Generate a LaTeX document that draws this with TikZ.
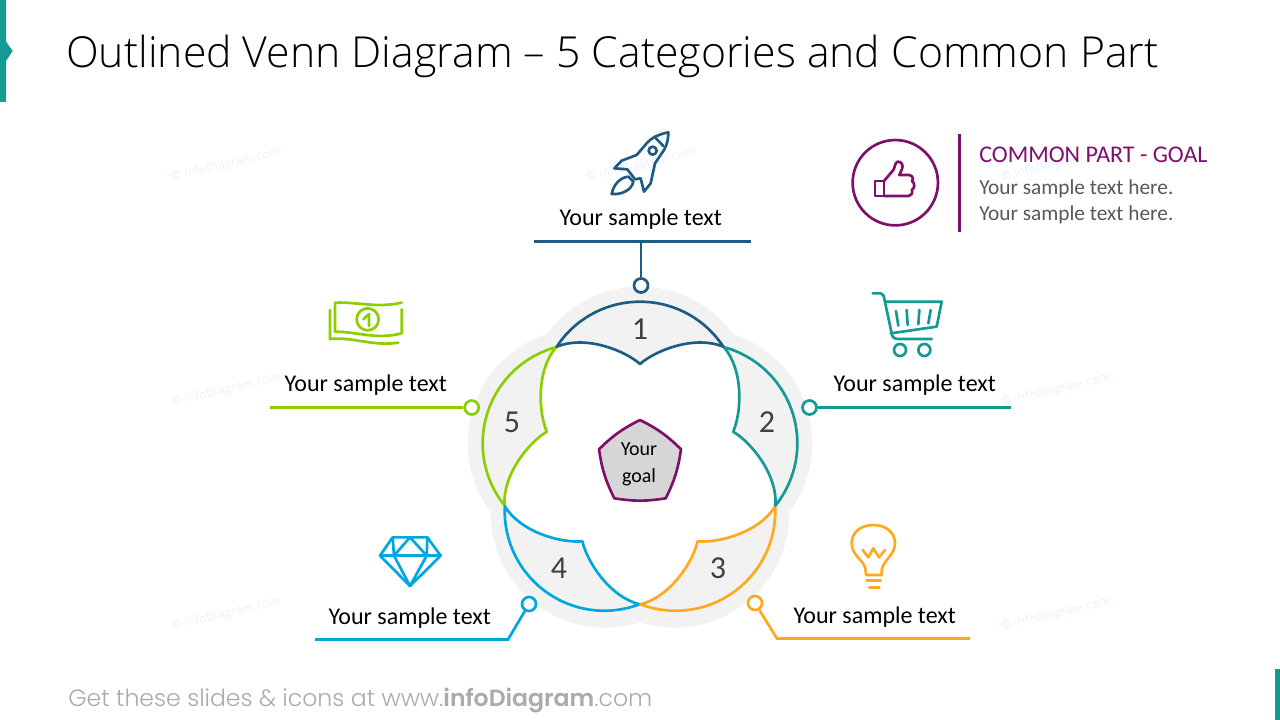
\documentclass[tikz,border=0pt]{standalone}
\usepackage{fontspec}
\setmainfont{Carlito}
\newfontfamily\titlefont{Open Sans Light}
\newfontfamily\footfont{Poppins Light}
\newfontfamily\footbold{Poppins}[BoldFont={Poppins SemiBold}]
\newfontfamily\wmfont{Open Sans Light}[LetterSpace=6]
\definecolor{cblue}{HTML}{1F5C85}
\definecolor{cteal}{HTML}{149A93}
\definecolor{corange}{HTML}{FFA91F}
\definecolor{csky}{HTML}{00A6DE}
\definecolor{cgreen}{HTML}{8CCF00}
\definecolor{cpurple}{HTML}{800F6B}
\definecolor{cblob}{HTML}{F2F2F2}
\definecolor{cwm}{HTML}{E0E9F6}
\tikzset{
  wline/.style={line width=2pt,line join=round,line cap=round},
  conn/.style={line width=2pt,line join=miter},
  marker/.style={circle,fill=white,line width=2pt,minimum size=10.5pt,inner sep=0pt},
  lbl/.style={inner sep=0pt,font=\fontsize{18}{21}\selectfont,text=black},
  num/.style={inner sep=0pt,font=\fontsize{24}{28}\selectfont,text=black!75},
  wmark/.style={inner sep=0pt,rotate=13,text=cwm,font=\wmfont\fontsize{8.6}{11}\selectfont},
  icon/.style={line width=2pt,line join=round,line cap=round},
  zoomed/.style={x=0.25pt,y=-0.25pt},
}
\begin{document}
\begin{tikzpicture}[x=0.75pt,y=-0.75pt]
\useasboundingbox (0,0) rectangle (1280,720);
\fill[white] (0,0) rectangle (1280,720);
% watermarks
\foreach \wx/\wy/\wn in {226/165/a,641/165/b,1056/165/c,226/390/d,1056/390/e,226/614/f,1056/614/g}
  \node[wmark] (wm\wn) at (\wx,\wy) {© infoDiagram.com};
% accents
\fill[cteal] (0,0) -- (6,0) -- (6,41.5) -- (12.7,51) -- (6,61) -- (6,102) -- (0,102) -- cycle;
\fill[cteal] (1275,669) rectangle (1280,720);
% title / footer
\node[anchor=base west,inner sep=0pt,font=\titlefont\fontsize{32.06}{38}\selectfont] (title) at (66,68) {Outlined Venn Diagram – 5 Categories and Common Part};
\node[anchor=base west,inner sep=0pt,text=black!33,font=\footfont\fontsize{17.67}{22}\selectfont] (foot) at (68,706) {Get these slides \& icons at www.{\footbold\bfseries infoDiagram}.com};
% blob
\fill[cblob] (640,401.3) circle[radius=114.6];
\fill[cblob] (697.7,443.2) circle[radius=114.6];
\fill[cblob] (582.3,443.2) circle[radius=114.6];
\fill[cblob] (674.7,513) circle[radius=114.6];
\fill[cblob] (605.3,513) circle[radius=114.6];
% white star
\foreach \k in {0,1,2,3,4}
  \fill[white,draw=white,line width=1pt,shift={(640,462)},rotate=-72*\k] (0,0) -- (83.3,-115.3) .. controls (55,-127) and (16,-112) .. (0,-98) .. controls (-16,-112) and (-55,-127) .. (-83.3,-115.3) -- cycle;
% petals
\foreach \k/\c in {4/cgreen,3/csky,2/corange,1/cteal,0/cblue}
  \draw[wline,\c,shift={(640,462)},rotate=-72*\k] (-83.3,-115.3) .. controls (-64.9,-143.4) and (-33.6,-160.3) .. (0,-160.3) .. controls (33.6,-160.3) and (64.9,-143.4) .. (83.3,-115.3) .. controls (55,-127) and (16,-112) .. (0,-98) .. controls (-16,-112) and (-55,-127) .. (-83.3,-115.3);
% numbers
\node[num] (n1) at (640,329.5) {1};
\node[num] (n2) at (767,422.5) {2};
\node[num] (n3) at (718,568.5) {3};
\node[num] (n4) at (559,568.5) {4};
\node[num] (n5) at (512,422.5) {5};
% pentagon
\fill[black!16] (640,420) to[bend left=9] (681,449.3) to[bend left=9] (665.7,498.3) to[bend left=9] (614.3,498.3) to[bend left=9] (599,449.3) to[bend left=9] cycle;
\draw[wline,cpurple] (640,420) to[bend left=9] (681,449.3) to[bend left=9] (665.7,498.3) to[bend left=9] (614.3,498.3) to[bend left=9] (599,449.3) to[bend left=9] cycle;
\node[inner sep=0pt,align=center,font=\fontsize{15}{20.25}\selectfont] (goal) at (639,464) {Your\\goal};
% connectors
\node[marker,draw=cblue] (m1) at (641,285.5) {};
\node[marker,draw=cteal] (m2) at (809.5,407.5) {};
\node[marker,draw=corange] (m3) at (755,603) {};
\node[marker,draw=csky] (m4) at (529,604) {};
\node[marker,draw=cgreen] (m5) at (471.7,407.5) {};
\coordinate (a1) at (534,241.5); \coordinate (b1) at (751,241.5); \coordinate (j1) at (641,241.5);
\coordinate (e2) at (1011,407.5);
\coordinate (j3) at (777,638.5); \coordinate (e3) at (970,638.5);
\coordinate (j4) at (508,639.5); \coordinate (e4) at (315,639.5);
\coordinate (e5) at (270,407.5);
\draw[conn,cblue] (a1) -- (b1);
\draw[conn,cblue] (m1) -- (j1);
\draw[conn,cteal] (m2) -- (e2);
\draw[conn,corange] (m3) -- (j3) -- (e3);
\draw[conn,csky] (m4) -- (j4) -- (e4);
\draw[conn,cgreen] (m5) -- (e5);
% labels
\node[lbl] (l1) at (640.7,219) {Your sample text};
\node[lbl] (l2) at (914.7,385) {Your sample text};
\node[lbl] (l3) at (874.7,617.5) {Your sample text};
\node[lbl] (l4) at (409.7,618) {Your sample text};
\node[lbl] (l5) at (365.7,385) {Your sample text};
% goal block
\node[circle,draw=cpurple,line width=2pt,minimum size=64pt,inner sep=0pt] (gc) at (895.3,182.7) {};
\coordinate (vt) at (959.3,134); \coordinate (vb) at (959.3,232.5);
\draw[cpurple,line width=2.2pt] (vt) -- (vb);
\node[anchor=base west,inner sep=0pt,text=cpurple,font=\fontsize{18}{21}\selectfont] (gh) at (979,163) {COMMON PART - GOAL};
\node[anchor=base west,inner sep=0pt,text=black!65,font=\fontsize{16}{19}\selectfont] (g1) at (979,195) {Your sample text here.};
\node[anchor=base west,inner sep=0pt,text=black!65,font=\fontsize{16}{19}\selectfont] (g2) at (979,220) {Your sample text here.};
% thumb
\begin{scope}[shift={(840,125)},zoomed]
\draw[icon,cpurple] (105,168) rectangle (132,213);
\draw[icon,cpurple] (132,168) -- (160,135) .. controls (166,125) and (164,112) .. (174,110) .. controls (186,110) and (190,122) .. (186,132) -- (178,150) -- (208,150) .. controls (220,152) and (220,165) .. (216,168) .. controls (226,175) and (224,190) .. (216,194) .. controls (218,205) and (214,213) .. (206,213) -- (132,213);
\end{scope}
% rocket
\begin{scope}[shift={(520,120)},zoomed]
\draw[icon,cblue] (445,37) .. controls (420,42) and (395,52) .. (380,70) -- (350,105) -- (305,122) -- (283,145) -- (322,148) -- (345,178) -- (362,175) -- (372,215) -- (392,190) -- (405,130) -- (432,90) .. controls (442,72) and (445,55) .. (445,37) -- cycle;
\draw[icon,cblue] (403,50) -- (430,78);
\draw[icon,cblue] (398,92) circle[radius=12];
\draw[icon,cblue] (275,222) .. controls (280,195) and (300,172) .. (325,170) -- (340,185) .. controls (335,210) and (305,225) .. (275,222) -- cycle;
\end{scope}
% cart
\begin{scope}[shift={(860,285)},zoomed]
\draw[icon,cteal] (38,25) -- (62,25) .. controls (70,25) and (72,35) .. (73,42) -- (95,145) .. controls (96,158) and (105,162) .. (115,162) -- (215,162);
\draw[icon,cteal] (78,50) -- (245,50) -- (230,125) -- (92,145);
\draw[icon,cteal] (108,78) -- (115,122);
\draw[icon,cteal] (140,75) -- (143,120);
\draw[icon,cteal] (178,75) -- (175,118);
\draw[icon,cteal] (212,75) -- (205,115);
\draw[icon,cteal] (120,195) circle[radius=18];
\draw[icon,cteal] (193,195) circle[radius=18];
\end{scope}
% money
\begin{scope}[shift={(320,290)},zoomed]
\draw[icon,cgreen] (245,38) .. controls (170,55) and (110,35) .. (45,38) -- (45,125) .. controls (110,125) and (170,150) .. (245,130) -- (245,58);
\draw[icon,cgreen] (30,60) -- (30,147) .. controls (100,140) and (160,170) .. (235,158);
\draw[icon,cgreen] (143,88) circle[radius=33];
\draw[icon,cgreen] (130,88) -- (147,72) -- (147,108);
\end{scope}
% diamond
\begin{scope}[shift={(370,525)},zoomed]
\draw[icon,csky] (68,37) -- (172,37) -- (212,92) -- (120,183) -- (30,92) -- cycle;
\draw[icon,csky] (30,92) -- (212,92);
\draw[icon,csky] (68,37) -- (72,92) -- (120,37) -- (170,92) -- (172,37);
\draw[icon,csky] (72,92) -- (120,183) -- (170,92);
\end{scope}
% bulb
\begin{scope}[shift={(840,520)},zoomed]
\draw[icon,corange] (78,165) -- (76,145) .. controls (70,120) and (35,105) .. (35,70) .. controls (35,35) and (65,15) .. (99,15) .. controls (135,15) and (165,35) .. (165,70) .. controls (165,105) and (130,120) .. (125,150) -- (125,165) -- cycle;
\draw[icon,corange] (68,90) -- (85,112) -- (100,85) -- (117,112) -- (135,90);
\draw[icon,corange] (80,182) -- (122,182);
\draw[icon,corange] (88,202) -- (118,202);
\end{scope}
\end{tikzpicture}
\end{document}
